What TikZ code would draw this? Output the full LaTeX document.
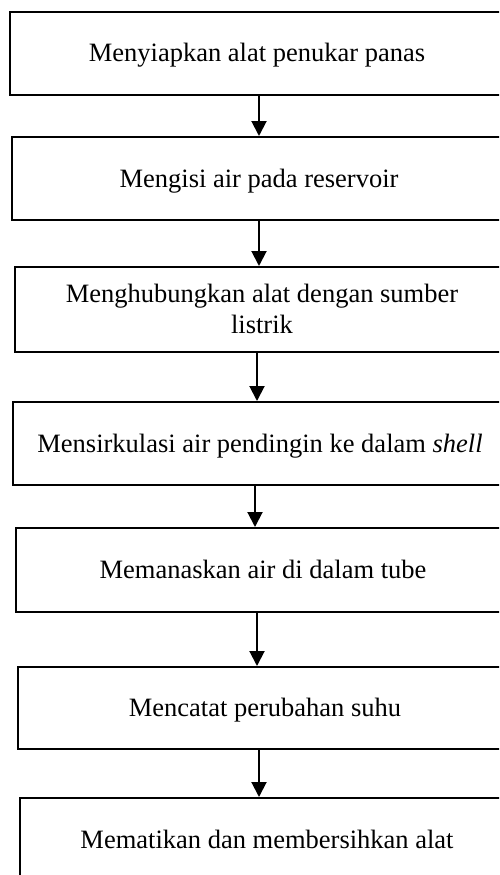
\documentclass[tikz,border=0pt]{standalone}
\usepackage{fontspec}
\setmainfont{Liberation Serif}
\usetikzlibrary{arrows.meta}
\begin{document}
\begin{tikzpicture}[x=1pt,y=-1pt,
  stepbox/.style={draw,line width=2pt,inner sep=0pt,align=center,minimum width=494pt,text height=17pt,text depth=0pt,font=\fontsize{26.5}{31}\selectfont},
  arr/.style={line width=2pt,-{Triangle[length=15pt,width=15pt]}}]
\useasboundingbox (0,0) rectangle (499,875);
\clip (0,0) rectangle (499,875);
\node[stepbox,minimum height=83pt] (s1) at (257,53.5) {Menyiapkan alat penukar panas};
\node[stepbox,minimum height=83pt] (s2) at (259,178.5) {Mengisi air pada reservoir};
\node[stepbox,minimum height=85pt,text height=48pt] (s3) at (262,309.5) {Menghubungkan alat dengan sumber\\listrik};
\node[stepbox,minimum height=83pt] (s4) at (260,443.5) {Mensirkulasi air pendingin ke dalam \textit{shell}};
\node[stepbox,minimum height=84pt] (s5) at (263,570) {Memanaskan air di dalam tube};
\node[stepbox,minimum height=82pt] (s6) at (265,708) {Mencatat perubahan suhu};
\node[stepbox,minimum height=83pt] (s7) at (267,839.5) {Mematikan dan membersihkan alat};
\coordinate (x1) at (259,0);
\coordinate (x2) at (259,0);
\coordinate (x3) at (257,0);
\coordinate (x4) at (255,0);
\coordinate (x5) at (257,0);
\coordinate (x6) at (259,0);
\draw[arr] (s1.south -| x1) -- (s2.north -| x1);
\draw[arr] (s2.south -| x2) -- (s3.north -| x2);
\draw[arr] (s3.south -| x3) -- (s4.north -| x3);
\draw[arr] (s4.south -| x4) -- (s5.north -| x4);
\draw[arr] (s5.south -| x5) -- (s6.north -| x5);
\draw[arr] (s6.south -| x6) -- (s7.north -| x6);
\end{tikzpicture}
\end{document}
